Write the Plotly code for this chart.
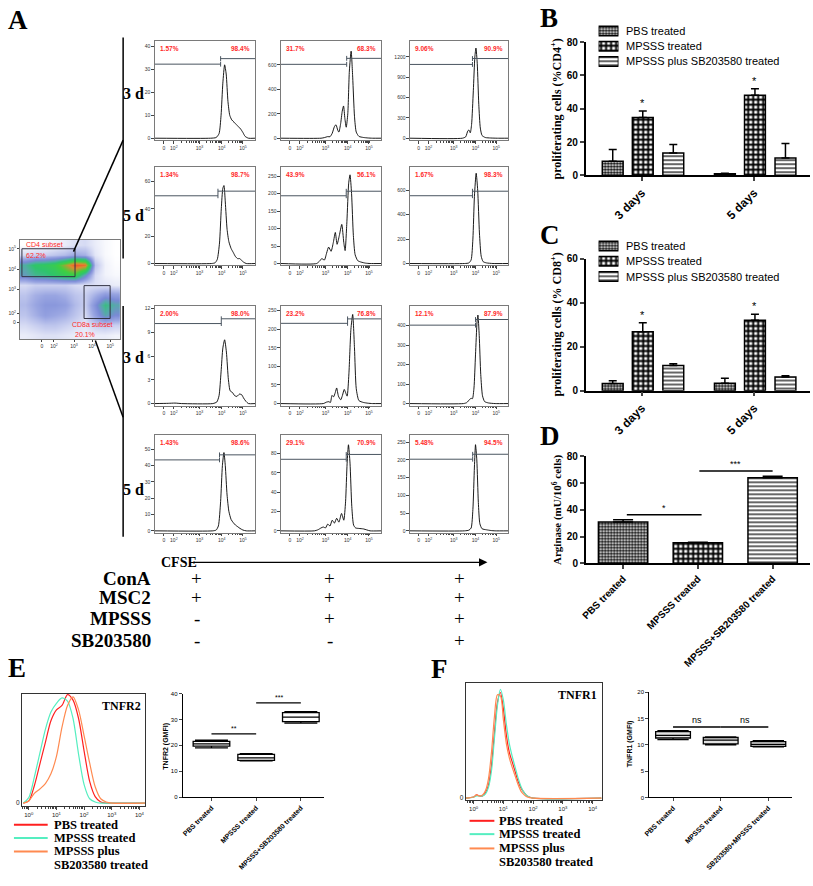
import numpy as np
import plotly.graph_objects as go

W, H = 813, 886
SERIF = "Liberation Serif"
SANS = "Liberation Sans"

# ---------------- DATA ----------------
# Panel A: CFSE histograms (u = CFSE position in decades on the biexponential axis, n = count)
r1c1_u = [1.0, 3.5, 3.75, 3.88, 3.97, 4.05, 4.13, 4.2, 4.28, 4.36, 4.45, 4.55, 4.65, 4.75, 4.85, 4.95, 5.05, 5.2, 5.5]
r1c1_n = [0, 0, 0.3, 2, 10, 24, 32, 28, 16, 10, 8, 7, 6, 5, 4, 2.5, 0.8, 0, 0]
r1c2_u = [1.0, 2.8, 2.95, 3.1, 3.2, 3.3, 3.4, 3.47, 3.55, 3.6, 3.68, 3.75, 3.81, 3.87, 3.93, 4.0, 4.07, 4.15, 4.22, 4.3, 4.38, 4.5, 4.7, 4.9, 5.1, 5.5]
r1c2_n = [0, 0, 5, 13, 12, 40, 95, 110, 65, 50, 120, 220, 264, 160, 90, 200, 550, 713, 500, 180, 50, 15, 6, 2, 0, 0]
r1c3_u = [1.0, 3.4, 3.55, 3.65, 3.7, 3.76, 3.82, 3.9, 3.97, 4.02, 4.08, 4.15, 4.22, 4.3, 4.45, 4.7, 5.0, 5.5]
r1c3_n = [0, 0, 20, 110, 120, 80, 200, 700, 1200, 1331, 1100, 500, 150, 40, 10, 3, 0, 0]
r2c1_u = [1.0, 3.55, 3.7, 3.8, 3.9, 3.98, 4.05, 4.1, 4.16, 4.24, 4.32, 4.42, 4.52, 4.62, 4.72, 4.8, 4.88, 4.98, 5.1, 5.5]
r2c1_n = [0, 0, 0.5, 3, 15, 40, 55, 57, 45, 25, 16, 11, 8, 5, 3.5, 3.6, 2.5, 1, 0, 0]
r2c2_u = [1.0, 2.6, 2.75, 2.83, 2.95, 3.05, 3.14, 3.25, 3.35, 3.44, 3.52, 3.62, 3.73, 3.82, 3.88, 3.96, 4.04, 4.1, 4.17, 4.25, 4.33, 4.45, 4.6, 4.8, 5.0, 5.5]
r2c2_n = [0, 0, 8, 14, 10, 30, 47, 35, 60, 89, 55, 80, 112, 60, 37, 120, 230, 254, 200, 80, 25, 8, 4, 1, 0, 0]
r2c3_u = [1.0, 3.5, 3.7, 3.8, 3.88, 3.95, 4.03, 4.1, 4.18, 4.26, 4.35, 4.5, 4.8, 5.5]
r2c3_n = [0, 0, 5, 30, 200, 550, 739, 600, 250, 60, 15, 5, 0, 0]
r3c1_u = [1.0, 1.6, 1.9, 2.2, 3.6, 3.78, 3.88, 3.97, 4.05, 4.13, 4.21, 4.3, 4.38, 4.48, 4.58, 4.68, 4.8, 4.9, 4.98, 5.08, 5.2, 5.5]
r3c1_n = [0, 0.03, 0.06, 0, 0, 0.2, 1, 4, 7, 8.05, 6.5, 3, 1.6, 1.4, 1.0, 0.9, 1.2, 1.1, 0.7, 0.3, 0, 0]
r3c2_u = [1.0, 2.9, 3.05, 3.15, 3.22, 3.29, 3.36, 3.44, 3.5, 3.58, 3.68, 3.76, 3.84, 3.9, 3.97, 4.05, 4.14, 4.22, 4.3, 4.38, 4.5, 4.7, 4.9, 5.1, 5.5]
r3c2_n = [0, 0, 4, 5, 3, 22, 18, 30, 42, 20, 10, 22, 38, 30, 20, 80, 200, 240, 150, 40, 8, 3, 1, 0, 0]
r3c3_u = [1.0, 3.45, 3.6, 3.72, 3.8, 3.86, 3.93, 4.0, 4.07, 4.11, 4.17, 4.24, 4.32, 4.42, 4.6, 4.9, 5.5]
r3c3_n = [0, 0, 5, 20, 27, 25, 80, 250, 420, 455, 350, 150, 40, 10, 3, 0, 0]
r4c1_u = [1.0, 3.6, 3.75, 3.85, 3.95, 4.03, 4.1, 4.16, 4.24, 4.32, 4.42, 4.52, 4.62, 4.72, 4.82, 4.95, 5.1, 5.5]
r4c1_n = [0, 0, 0.5, 3, 18, 40, 48, 40, 22, 12, 7, 5, 3.5, 2.5, 1.5, 0.5, 0, 0]
r4c2_u = [1.0, 2.5, 2.65, 2.8, 2.9, 3.0, 3.1, 3.2, 3.3, 3.4, 3.5, 3.6, 3.72, 3.82, 3.9, 3.97, 4.03, 4.1, 4.18, 4.26, 4.35, 4.5, 4.7, 4.85, 5.0, 5.5]
r4c2_n = [0, 0, 1, 3, 4, 3, 7, 5, 11, 8, 13, 9, 18, 11, 30, 70, 89, 70, 25, 6, 3, 2.5, 2, 1, 0, 0]
r4c3_u = [1.0, 3.5, 3.7, 3.8, 3.88, 3.95, 4.0, 4.06, 4.13, 4.2, 4.3, 4.5, 4.7, 4.9, 5.5]
r4c3_n = [0, 0, 2, 8, 60, 180, 243, 200, 80, 20, 6, 3, 1, 0, 0]

HIST_YMAX = [[42.6, 800, 1442], [70.7, 277, 792], [12.33, 263, 502], [58.7, 99, 270]]
HIST_YTICKS = [[[0, 10, 20, 30, 40], [0, 200, 400, 600], [0, 300, 600, 900, 1200]],
               [[0, 20, 40, 60], [0, 50, 100, 150, 200, 250], [0, 200, 400, 600]],
               [[0, 3, 6, 9, 12], [0, 50, 100, 150, 200, 250], [0, 100, 200, 300, 400]],
               [[0, 10, 20, 30, 40, 50], [0, 20, 40, 60, 80], [0, 50, 100, 150, 200, 250]]]
GATE_SPLIT = [[3.95, 3.95, 3.86], [3.83, 3.93, 3.86], [3.98, 3.99, 4.0], [3.9, 3.93, 3.87]]
GATE_LEFT_Y = [[32.3, 605, 1089], [49.5, 194, 555], [10.1, 216, 403], [43.5, 74, 202]]
GATE_RIGHT_Y = [[34.7, 654, 1176], [52.9, 207, 592], [10.7, 228, 432], [46.6, 79, 216]]
HIST_PCT_LEFT = [["1.57%", "31.7%", "9.06%"], ["1.34%", "43.9%", "1.67%"],
                 ["2.00%", "23.2%", "12.1%"], ["1.43%", "29.1%", "5.48%"]]
HIST_PCT_RIGHT = [["98.4%", "68.3%", "90.9%"], ["98.7%", "56.1%", "98.3%"],
                  ["98.0%", "76.8%", "87.9%"], ["98.6%", "70.9%", "94.5%"]]
ROW_LABELS = ["3 d", "5 d", "3 d", "5 d"]
HIST_XTICK_POS = [1.4, 1.85, 3.0, 4.0, 4.95]
HIST_XTICK_TXT = ["0", "10<sup>2</sup>", "10<sup>3</sup>", "10<sup>4</sup>", "10<sup>5</sup>"]

# CD4 / CD8 dot plot, coarse density grid (rows: top -> bottom)
SCAT_Z = [
    [0, 0, 0.05, 0.1, 0.15, 0.25, 0.3, 0.15, 0.05, 0],
    [0.3, 0.4, 0.4, 0.5, 0.6, 0.8, 0.7, 0.2, 0.05, 0],
    [1.6, 2.0, 2.1, 2.3, 2.9, 3.6, 3.4, 0.5, 0.1, 0.02],
    [1.4, 1.7, 1.8, 2.0, 2.2, 2.4, 1.4, 0.3, 0.1, 0.05],
    [0.3, 0.4, 0.4, 0.4, 0.4, 0.3, 0.25, 0.25, 0.2, 0.15],
    [0.5, 0.7, 0.8, 0.8, 0.7, 0.5, 0.4, 0.7, 1.0, 0.9],
    [0.6, 0.8, 1.0, 1.0, 0.9, 0.6, 0.4, 1.1, 1.8, 1.5],
    [0.5, 0.7, 0.9, 0.8, 0.7, 0.5, 0.3, 0.9, 1.5, 1.2],
    [0.3, 0.4, 0.5, 0.5, 0.4, 0.3, 0.2, 0.4, 0.5, 0.4],
    [0.15, 0.2, 0.25, 0.25, 0.2, 0.15, 0.15, 0.15, 0.15, 0.1],
]
SCAT_XTICK_POS = [2.2, 3.4, 5.4, 7.2, 9.0]
SCAT_YTICK_POS = [1.7, 2.6, 5.0, 7.0, 9.1]
SCAT_YTICK_TXT = ["0", "10<sup>2</sup>", "10<sup>3</sup>", "10<sup>4</sup>", "10<sup>5</sup>"]
CD4_GATE = [0.2, 5.5, 6.3, 9.1]   # x0, x1, y0, y1
CD8_GATE = [6.4, 9.0, 2.1, 5.4]

TREAT_ROWS = ["ConA", "MSC2", "MPSSS", "SB203580"]
TREAT_SIGNS = [["+", "+", "+"], ["+", "+", "+"], ["-", "+", "+"], ["-", "-", "+"]]

# Panels B, C
GROUPS = ["3 days", "5 days"]
SERIES = ["PBS treated", "MPSSS treated", "MPSSS plus SB203580 treated"]
B_PBS = [8.5, 1.0]
B_PBS_ERR = [7.0, 0.3]
B_MP = [34.7, 48.1]
B_MP_ERR = [4.0, 4.0]
B_SB = [13.5, 10.5]
B_SB_ERR = [5.0, 8.7]
C_PBS = [3.3, 3.4]
C_PBS_ERR = [1.2, 2.3]
C_MP = [26.8, 32.0]
C_MP_ERR = [4.0, 2.7]
C_SB = [11.5, 6.2]
C_SB_ERR = [0.7, 0.6]

# Panel D
D_CATS = ["PBS treated", "MPSSS treated", "MPSSS+SB203580 treated"]
D_VALS = [31.0, 15.4, 64.0]
D_ERR = [1.5, 0.3, 1.1]
D_SIG = [(0.05, 1.05, 36.3, "*"), (1.02, 2.0, 69.0, "***")]

# Panel E / F histograms (x in log10 units, y in % of max)
E_X = [-0.2, 0.0, 0.2, 0.4, 0.6, 0.8, 1.0, 1.2, 1.4, 1.6, 1.8, 2.0, 2.2, 2.4, 2.6, 2.8, 3.0, 4.2]
E_PBS = [0, 2, 16, 36, 56, 76, 86, 90, 100, 95, 78, 48, 20, 6, 1, 0, 0, 0]
E_MP = [0, 5, 24, 46, 68, 84, 92, 97, 94, 78, 45, 17, 4, 1, 0, 0, 0, 0]
E_SB = [0, 2, 9, 13, 18, 27, 43, 70, 90, 98, 86, 62, 37, 15, 4, 1, 0, 0]
F_X = [-0.27, 0.0, 0.1, 0.2, 0.3, 0.4, 0.5, 0.6, 0.7, 0.8, 0.9, 1.0, 1.1, 1.2, 1.3, 1.4, 1.5, 1.6, 1.7, 1.8, 2.0, 4.3]
F_PBS = [0, 1, 3, 2, 2, 5, 12, 30, 60, 88, 97, 82, 58, 42, 33, 24, 15, 9, 5, 2, 0, 0]
F_MP = [0, 1, 2, 2, 2, 4, 10, 25, 55, 85, 100, 90, 68, 50, 38, 28, 18, 10, 5, 2, 0, 0]
F_SB = [0, 1, 3, 2, 3, 7, 18, 42, 75, 95, 94, 72, 50, 37, 28, 20, 12, 6, 3, 1, 0, 0]
LOG_TICK_TXT = ["10<sup>0</sup>", "10<sup>1</sup>", "10<sup>2</sup>", "10<sup>3</sup>", "10<sup>4</sup>"]

# Panel E / F box plots
E_CATS = ["PBS treated", "MPSSS treated", "MPSSS+SB203580 treated"]
E_MIN = [19.0, 14.0, 28.6]
E_Q1 = [19.7, 14.2, 29.2]
E_MED = [20.6, 15.2, 30.9]
E_Q3 = [21.5, 16.5, 32.6]
E_MAX = [22.0, 16.8, 33.0]
E_SIG = [(0, 1, 24.4, "**"), (1, 2, 36.4, "***")]
F_CATS = ["PBS treated", "MPSSS treated", "SB203580+MPSSS treated"]
F_MIN = [11.0, 10.0, 9.6]
F_Q1 = [11.3, 10.2, 9.7]
F_MED = [11.8, 10.9, 10.1]
F_Q3 = [12.5, 11.4, 10.6]
F_MAX = [12.7, 11.5, 10.8]
F_SIG = [(0, 1, 13.4, "ns"), (1, 2, 13.4, "ns")]

HIST_COLORS = ["#ff1f1f", "#55eec0", "#ff8a50"]

# ---------------- FIGURE ----------------
fig = go.Figure()
layout = dict(width=W, height=H, margin=dict(l=0, r=0, t=0, b=0),
              paper_bgcolor="white", plot_bgcolor="rgba(0,0,0,0)", barmode="overlay",
              showlegend=False)
ann = []
shp = []
cnt = [0]


def dx(x0, x1):
    return [x0 / W, x1 / W]


def dy(y0, y1):
    return [1 - y1 / H, 1 - y0 / H]


def axes(xd, yd, xo, yo):
    cnt[0] += 1
    s = "" if cnt[0] == 1 else str(cnt[0])
    layout["xaxis" + s] = dict(domain=xd, anchor="y" + s, showgrid=False, zeroline=False, **xo)
    layout["yaxis" + s] = dict(domain=yd, anchor="x" + s, showgrid=False, zeroline=False, **yo)
    return "x" + s, "y" + s


def text(x, y, s, size, family=SERIF, bold=True, color="black", xa="center", ya="middle", angle=0):
    ann.append(dict(xref="paper", yref="paper", x=x / W, y=1 - y / H, text=s, showarrow=False,
                    font=dict(family=family, size=size, color=color, weight="bold" if bold else "normal"),
                    xanchor=xa, yanchor=ya, textangle=angle))


# ----- Panel A histograms -----
HIST_U = [[r1c1_u, r1c2_u, r1c3_u], [r2c1_u, r2c2_u, r2c3_u], [r3c1_u, r3c2_u, r3c3_u], [r4c1_u, r4c2_u, r4c3_u]]
HIST_N = [[r1c1_n, r1c2_n, r1c3_n], [r2c1_n, r2c2_n, r2c3_n], [r3c1_n, r3c2_n, r3c3_n], [r4c1_n, r4c2_n, r4c3_n]]
COLS_PX = [(150, 251), (277, 378), (407, 506)]
ROWS_PX = [(35, 136), (163, 263), (304, 405), (435, 534)]
ROW_LABEL_Y = [89, 212, 356, 490]
minor_hist = [1.85 + (3 - 1.85) * np.log10(k) for k in range(2, 10)] + \
             [d + np.log10(k) for d in (3, 4) for k in range(2, 10)]
tickfont_small = dict(family=SANS, size=5, color="#333")
for r in range(4):
    for c in range(3):
        ymax = HIST_YMAX[r][c]
        xa, ya = axes(dx(*COLS_PX[c]), dy(*ROWS_PX[r]),
                      dict(range=[1.0, 5.5], showline=True, linecolor="#7a7a7a", linewidth=1, mirror=True,
                           ticks="outside", ticklen=2.5, tickwidth=0.8, tickcolor="#444",
                           tickvals=HIST_XTICK_POS, ticktext=HIST_XTICK_TXT, tickfont=tickfont_small,
                           minor=dict(tickmode="array", tickvals=minor_hist, ticks="outside", ticklen=1.5,
                                      tickcolor="#444")),
                      dict(range=[-0.02 * ymax, ymax], showline=True, linecolor="#7a7a7a", linewidth=1,
                           mirror=True, ticks="outside", ticklen=2.5, tickwidth=0.8, tickcolor="#444",
                           tickvals=HIST_YTICKS[r][c], tickfont=tickfont_small))
        fig.add_trace(go.Scatter(x=HIST_U[r][c], y=HIST_N[r][c], mode="lines", xaxis=xa, yaxis=ya,
                                 line=dict(color="black", width=0.9, shape="spline", smoothing=0.6),
                                 showlegend=False, hoverinfo="skip"))
        sp, gl, gr = GATE_SPLIT[r][c], GATE_LEFT_Y[r][c], GATE_RIGHT_Y[r][c]
        tk = 0.025 * ymax
        fig.add_trace(go.Scatter(x=[1.0, sp, None, sp, sp, None, sp, 5.5, None, sp, sp],
                                 y=[gl, gl, None, gl - tk, gl + tk, None, gr, gr, None, gr - tk, gr + tk],
                                 mode="lines", xaxis=xa, yaxis=ya, line=dict(color="#4a5560", width=1),
                                 showlegend=False, hoverinfo="skip"))
        ann.append(dict(xref=xa + " domain", yref=ya + " domain", x=0.03, y=0.98, xanchor="left", yanchor="top",
                        text=HIST_PCT_LEFT[r][c], showarrow=False,
                        font=dict(family=SANS, size=6.5, color="#ff2a2a", weight="bold")))
        ann.append(dict(xref=xa + " domain", yref=ya + " domain", x=0.97, y=0.98, xanchor="right", yanchor="top",
                        text=HIST_PCT_RIGHT[r][c], showarrow=False,
                        font=dict(family=SANS, size=6.5, color="#ff2a2a", weight="bold")))
    text(128, ROW_LABEL_Y[r], ROW_LABELS[r], 16)

# ----- dot plot -----
xa, ya = axes(dx(14, 115), dy(237, 338),
              dict(range=[0, 10], showline=True, linecolor="#7a7a7a", mirror=True, ticks="outside", ticklen=2,
                   tickvals=SCAT_XTICK_POS, ticktext=HIST_XTICK_TXT, tickfont=tickfont_small),
              dict(range=[0, 10], showline=True, linecolor="#7a7a7a", mirror=True, ticks="outside", ticklen=2,
                   tickvals=SCAT_YTICK_POS, ticktext=SCAT_YTICK_TXT, tickfont=tickfont_small))
fig.add_trace(go.Heatmap(z=SCAT_Z[::-1], x=[i + 0.5 for i in range(10)], y=[i + 0.5 for i in range(10)],
                         xaxis=xa, yaxis=ya, zsmooth="best", showscale=False, zmin=0, zmax=4, hoverinfo="skip",
                         colorscale=[[0, "#ffffff"], [0.03, "#eef0fa"], [0.1, "#c9cff0"], [0.2, "#9aa6e2"],
                                     [0.3, "#7a8ad6"], [0.4, "#4fb0a0"], [0.48, "#2fc46e"], [0.62, "#3fd040"],
                                     [0.8, "#e08a30"], [1, "#ff2020"]]))
for g in (CD4_GATE, CD8_GATE):
    shp.append(dict(type="rect", xref=xa, yref=ya, x0=g[0], x1=g[1], y0=g[2], y1=g[3],
                    line=dict(color="#333344", width=1)))
for tx, tyv, s in [(0.4, 9.55, "CD4 subset"), (0.4, 8.45, "62.2%"), (5.0, 1.45, "CD8a subset"), (5.3, 0.45, "20.1%")]:
    ann.append(dict(xref=xa, yref=ya, x=tx, y=tyv, text=s, showarrow=False, xanchor="left",
                    font=dict(family=SANS, size=7, color="#ff2a2a")))

# A connector lines
for x0, y0, x1, y1 in [(118, 32, 118, 256), (118, 304, 118, 538), (68, 249, 118, 136), (90, 339, 118, 417)]:
    shp.append(dict(type="line", xref="paper", yref="paper", x0=x0 / W, y0=1 - y0 / H, x1=x1 / W, y1=1 - y1 / H,
                    line=dict(color="black", width=1.5)))

# CFSE arrow
text(154, 564, "CFSE", 14, xa="left")
ann.append(dict(xref="paper", yref="paper", axref="pixel", ayref="pixel", x=485 / W, y=1 - 564 / H,
                ax=-(485 - 190), ay=0, text="", showarrow=True, arrowhead=2, arrowsize=1.2,
                arrowwidth=1.4, arrowcolor="black"))
# treatment table
ROW_Y = [580, 600, 621, 643]
COL_X = [192, 326, 457]
for i, nm in enumerate(TREAT_ROWS):
    text(148, ROW_Y[i], nm, 19, xa="right")
    for j, sgn in enumerate(TREAT_SIGNS[i]):
        text(COL_X[j], ROW_Y[i], sgn, 19, bold=False)

# ----- Panels B, C -----
BAR_W = 0.186
OFFS = [-0.352, -0.084, 0.188]
PAT_SHAPE = [".", "+", "-"]
PAT_SIZE = [3, 5, 4]
PAT_SOL = [0.55, 0.62, 0.3]


def pattern(k):
    return dict(shape=PAT_SHAPE[k], size=PAT_SIZE[k], solidity=PAT_SOL[k], fgcolor="black", bgcolor="white",
                fillmode="replace")


def bar_panel(ydom, ymax, yticks, data, leg_top):
    xa, ya = axes(dx(584, 810), ydom,
                  dict(range=[-0.5, 1.5], tickvals=[0, 1], ticktext=GROUPS, tickangle=-45, showline=True,
                       linecolor="black", linewidth=1.5, ticks="outside", ticklen=4, tickwidth=1.5,
                       tickfont=dict(family=SANS, size=12, color="black", weight="bold")),
                  dict(range=[0, ymax], tickvals=yticks, showline=True, linecolor="black", linewidth=1.5,
                       ticks="outside", ticklen=4, tickwidth=1.5,
                       tickfont=dict(family=SANS, size=10, color="black", weight="bold")))
    for k, (vals, errs) in enumerate(data):
        fig.add_trace(go.Bar(x=[0, 1], y=vals, width=BAR_W, offset=OFFS[k], xaxis=xa, yaxis=ya, name=SERIES[k],
                             showlegend=False,
                             marker=dict(color="white", line=dict(color="black", width=1.5), pattern=pattern(k)),
                             error_y=dict(type="data", symmetric=False, array=errs, arrayminus=[0, 0],
                                          color="black", thickness=1.5, width=4)))
    vals, errs = data[1]
    for g in range(2):
        ann.append(dict(xref=xa, yref=ya, x=g + OFFS[1] + BAR_W / 2, y=vals[g] + errs[g], yanchor="bottom",
                        text="*", showarrow=False, font=dict(family=SANS, size=11, color="black")))
    # legend drawn as small patterned swatches
    lxa, lya = axes(dx(597, 617), dy(leg_top, leg_top + 46.5),
                    dict(range=[0, 1], visible=False), dict(range=[2.5, -0.5], visible=False))
    fig.add_trace(go.Bar(y=[0, 1, 2], x=[1, 1, 1], orientation="h", width=0.62, xaxis=lxa, yaxis=lya,
                         showlegend=False, hoverinfo="skip",
                         marker=dict(color="white", line=dict(color="black", width=1.5),
                                     pattern=dict(shape=PAT_SHAPE, size=PAT_SIZE, solidity=PAT_SOL,
                                                  fgcolor="black", bgcolor="white", fillmode="replace"))))
    for k, s in enumerate(SERIES):
        text(623, leg_top + 7.75 + 15.5 * k, s, 11, family=SANS, bold=False, xa="left")
    return xa, ya


bar_panel(dy(36.7, 171.7), 80, [0, 20, 40, 60, 80],
          [(B_PBS, B_PBS_ERR), (B_MP, B_MP_ERR), (B_SB, B_SB_ERR)], 17.5)
bar_panel(dy(256, 390), 60, [0, 20, 40, 60],
          [(C_PBS, C_PBS_ERR), (C_MP, C_MP_ERR), (C_SB, C_SB_ERR)], 235.5)
text(555, 104, "proliferating cells (%CD4<sup>+</sup>)", 12, angle=-90)
text(555, 323, "proliferating cells (% CD8<sup>+</sup>)", 12, angle=-90)

# ----- Panel D -----
xa, ya = axes(dx(584, 810), dy(456.5, 565),
              dict(range=[-0.5, 2.5], tickvals=[0, 1, 2], ticktext=D_CATS, tickangle=-45, showline=True,
                   linecolor="black", linewidth=1.5, ticks="outside", ticklen=4, tickwidth=1.5,
                   tickfont=dict(family=SANS, size=10, color="black", weight="bold")),
              dict(range=[0, 80], tickvals=[0, 20, 40, 60, 80], showline=True, linecolor="black", linewidth=1.5,
                   ticks="outside", ticklen=4, tickwidth=1.5,
                   tickfont=dict(family=SANS, size=10, color="black", weight="bold")))
fig.add_trace(go.Bar(x=[0, 1, 2], y=D_VALS, width=0.66, xaxis=xa, yaxis=ya, showlegend=False,
                     marker=dict(color="white", line=dict(color="black", width=1.5),
                                 pattern=dict(shape=PAT_SHAPE, size=PAT_SIZE, solidity=PAT_SOL,
                                              fgcolor="black", bgcolor="white", fillmode="replace")),
                     error_y=dict(type="data", symmetric=False, array=D_ERR, arrayminus=[0, 0, 0],
                                  color="black", thickness=1.5, width=10)))
for x0, x1, yv, s in D_SIG:
    shp.append(dict(type="line", xref=xa, yref=ya, x0=x0, x1=x1, y0=yv, y1=yv, line=dict(color="black", width=1.5)))
    ann.append(dict(xref=xa, yref=ya, x=(x0 + x1) / 2, y=yv, yanchor="bottom", text=s, showarrow=False,
                    font=dict(family=SANS, size=9, color="black")))
text(555, 510, "Arginase (mU/10<sup>6</sup> cells)", 11, angle=-90)

# ----- Panels E, F histograms -----
minor_log = [d + np.log10(k) for d in range(-1, 5) for k in range(2, 10)]


def flow_hist(xd, yd, xr, yr, curves, label):
    xa, ya = axes(xd, yd,
                  dict(range=xr, showline=True, linecolor="#333", linewidth=1, mirror=True, ticks="outside",
                       ticklen=3, tickvals=[0, 1, 2, 3, 4], ticktext=LOG_TICK_TXT,
                       tickfont=dict(family=SANS, size=6, color="#222"),
                       minor=dict(tickmode="array", tickvals=[v for v in minor_log if xr[0] < v < xr[1]],
                                  ticks="outside", ticklen=1.8)),
                  dict(range=yr, showline=True, linecolor="#333", linewidth=1, mirror=True, ticks="",
                       tickvals=[0], ticktext=["0"], tickfont=dict(family=SANS, size=6.5, color="#222")))
    for (xs, ys), col in zip(curves, HIST_COLORS):
        fig.add_trace(go.Scatter(x=xs, y=ys, mode="lines", xaxis=xa, yaxis=ya, showlegend=False, hoverinfo="skip",
                                 line=dict(color=col, width=1.2, shape="spline", smoothing=0.8)))
    ann.append(dict(xref=xa + " domain", yref=ya + " domain", x=0.98, y=0.97, xanchor="right", yanchor="top",
                    text=label, showarrow=False, font=dict(family=SERIF, size=12, color="black", weight="bold")))


flow_hist(dx(16, 140), dy(697, 811), [-0.25, 4.2], [-2.7, 101],
          [(E_X, E_PBS), (E_X, E_MP), (E_X, E_SB)], "TNFR2")
flow_hist(dx(463, 600), dy(686, 805), [-0.27, 4.3], [-1.8, 106],
          [(F_X, F_PBS), (F_X, F_MP), (F_X, F_SB)], "TNFR1")


def flow_legend(lx0, lx1, tx, ys):
    labels = ["PBS treated", "MPSSS treated", "MPSSS plus", "SB203580 treated"]
    for k in range(3):
        shp.append(dict(type="line", xref="paper", yref="paper", x0=lx0 / W, x1=lx1 / W,
                        y0=1 - ys[k] / H, y1=1 - ys[k] / H, line=dict(color=HIST_COLORS[k], width=2)))
    for k, s in enumerate(labels):
        text(tx, ys[k], s, 12.5, xa="left")


flow_legend(8, 42, 46, [830, 843.5, 857, 871])
flow_legend(467, 492, 495, [826, 839.5, 854, 868])

# ----- Panels E, F box plots -----


def box_panel(xd, yd, xr, yr, yticks, cats, q, fill, width, sigs, ytitle, tx, ty):
    xa, ya = axes(xd, yd,
                  dict(range=xr, tickvals=[0, 1, 2], ticktext=cats, tickangle=-45, showline=True,
                       linecolor="black", linewidth=1, ticks="outside", ticklen=3,
                       tickfont=dict(family=SANS, size=7, color="black", weight="bold")),
                  dict(range=yr, tickvals=yticks, showline=True, linecolor="black", linewidth=1, ticks="outside",
                       ticklen=3, tickfont=dict(family=SANS, size=6, color="black")))
    mn, q1, md, q3, mx = q
    fig.add_trace(go.Box(x=[0, 1, 2], lowerfence=mn, q1=q1, median=md, q3=q3, upperfence=mx, xaxis=xa, yaxis=ya,
                         width=width, fillcolor=fill, line=dict(color="black", width=1.3), whiskerwidth=0.9,
                         boxpoints=False, showlegend=False, hoverinfo="skip"))
    for x0, x1, yv, s in sigs:
        shp.append(dict(type="line", xref=xa, yref=ya, x0=x0, x1=x1, y0=yv, y1=yv,
                        line=dict(color="black", width=1.3)))
        ann.append(dict(xref=xa, yref=ya, x=(x0 + x1) / 2, y=yv, yanchor="bottom", text=s, showarrow=False,
                        font=dict(family=SANS, size=9 if s == "ns" else 7, color="black")))
    text(tx, ty, ytitle, 7, family=SANS, angle=-90)


box_panel(dx(178, 320), dy(697, 802), [-0.644, 2.51], [0, 40], [0, 10, 20, 30, 40], E_CATS,
          (E_MIN, E_Q1, E_MED, E_Q3, E_MAX), "white", 0.82, E_SIG, "TNFR2 (GMFI)", 161, 750)
box_panel(dx(648, 792), dy(695.7, 802.3), [-0.5, 2.5], [0, 20], [0, 5, 10, 15, 20], F_CATS,
          (F_MIN, F_Q1, F_MED, F_Q3, F_MAX), "#e2e2e2", 0.73, F_SIG, "TNFR1 (GMFI)", 629, 748)

# panel letters
for s, x, y in [("A", 12, 14), ("B", 547, 12), ("C", 548, 232), ("D", 548, 436), ("E", 11, 671), ("F", 437, 672)]:
    text(x, y, s, 27)

layout["annotations"] = ann
layout["shapes"] = shp
fig.update_layout(**layout)
fig.write_html("out.html", config={"displayModeBar": False},
               post_script="document.body.style.margin='0';document.body.style.overflow='hidden';")
